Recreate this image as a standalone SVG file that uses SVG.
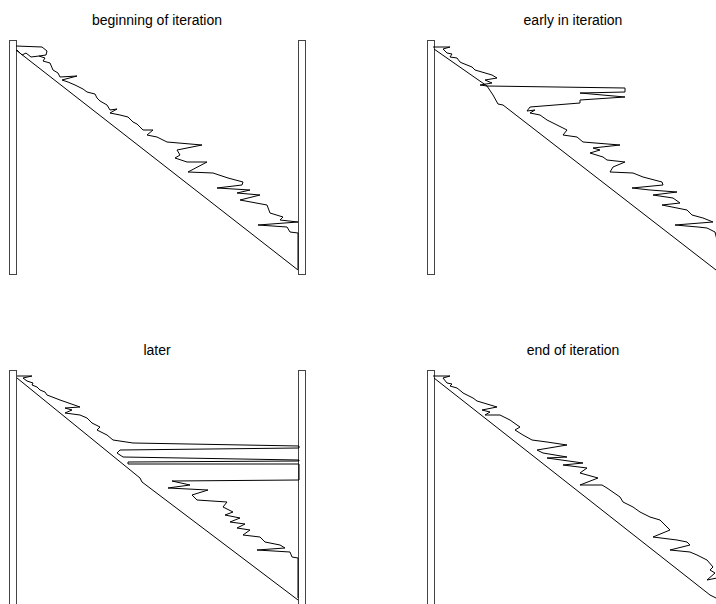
<svg xmlns="http://www.w3.org/2000/svg" width="716" height="604" viewBox="0 0 716 604">
<style>
.t{font-family:"Liberation Sans",Arial,sans-serif;font-size:14px;fill:#000;text-anchor:middle}
.bar{fill:#fff;stroke:#444;stroke-width:1}
.ln{fill:none;stroke:#000;stroke-width:1;stroke-linejoin:miter}
</style>
<rect width="716" height="604" fill="#fff"/>
<g id="panel1">
<text class="t" x="157" y="25">beginning of iteration</text>
<rect class="bar" x="9.5" y="40.5" width="7" height="234"/>
<rect class="bar" x="298.5" y="40.5" width="7" height="234"/>
<g id="connectors1">
<path class="ln" d="M16,50 L298,270"/>
<path class="ln" d="M16,46 L42,47 L47,51 L46,55 L39,56 L45,58 L43,61 L50,63 L53,70 L58,73 L60,77 L77,76 L62,80 L68,82 L75,85 L83,89 L87,92 L95,94 L97,98 L100,101 L107,105 L110,110 L117,109 L110,113 L120,115 L128,117 L133,122 L137,124 L143,130 L153,130 L147,135 L157,137 L167,142 L202,145 L177,150 L180,155 L175,158 L187,162 L207,162 L188,172 L213,173 L228,178 L243,182 L242,185 L217,188 L250,190 L237,193 L260,195 L240,200 L267,205 L270,213 L283,217 L280,220 L298,222 L258,225 L287,227 L290,232 L298,233 L298,269"/>
<path class="ln" d="M17,50 L22,55 L26,53 L31,57 L39,56"/>
</g>
</g>
<g id="panel2">
<text class="t" x="573" y="25">early in iteration</text>
<rect class="bar" x="427.5" y="40.5" width="7" height="234"/>
<g id="connectors2">
<path class="ln" d="M434,49 L487,86 L493,95 L498,104 L503,105 L716,270"/>
<path class="ln" d="M433,47 L450,47 L443,49 L447,53 L452,54 L450,57 L457,58 L460,62 L462,63 L472,67 L475,70 L492,75 L497,78 L485,80 L492,83 L480,85 L487,86 L625,88 L625,92 L580,93 L625,97 L580,100 L580,103 L530,107 L527,111 L535,110 L530,113 L540,115 L547,120 L553,123 L563,128 L567,130 L563,135 L577,137 L583,142 L620,145 L593,148 L600,150 L590,153 L603,157 L607,160 L625,162 L613,167 L610,172 L633,173 L643,177 L662,182 L663,185 L632,188 L650,190 L677,192 L653,195 L673,198 L680,203 L662,205 L687,210 L692,215 L703,218 L713,222 L675,225 L698,227 L707,228 L715,232 L717,240"/>
</g>
</g>
<g id="panel3">
<text class="t" x="157" y="355">later</text>
<rect class="bar" x="9.5" y="370.5" width="7" height="240"/>
<rect class="bar" x="298.5" y="370.5" width="7" height="240"/>
<g id="connectors3">
<path class="ln" d="M17,378 L140,478 L142,482 L298,600"/>
<path class="ln" d="M17,376 L32,376 L23,378 L27,381 L33,383 L32,385 L37,387 L40,390 L45,392 L47,395 L60,400 L80,407 L65,408 L72,410 L65,413 L80,415 L87,418 L92,423 L100,427 L97,430 L107,435 L113,440 L133,443 L299,446 L299,448 L120,450 L117,453 L123,457 L299,460 L299,461 L128,462 L128,464 L299,464 L299,480 L172,481 L190,485 L168,488 L208,490 L192,495 L197,500 L227,502 L223,507 L233,512 L225,515 L240,518 L230,522 L245,524 L237,528 L250,530 L243,535 L260,537 L265,542 L280,545 L285,548 L257,550 L290,552 L292,557 L298,558 L298,598"/>
</g>
</g>
<g id="panel4">
<text class="t" x="573" y="355">end of iteration</text>
<rect class="bar" x="427.5" y="370.5" width="7" height="240"/>
<g id="connectors4">
<path class="ln" d="M434,378 L710,595 L716,598"/>
<path class="ln" d="M433,376 L450,376 L443,378 L447,383 L452,384 L450,386 L457,388 L462,392 L463,393 L473,398 L477,401 L497,407 L482,410 L490,412 L485,415 L500,415 L510,420 L517,425 L520,427 L515,430 L523,435 L532,440 L547,442 L567,445 L537,450 L543,453 L567,457 L547,458 L583,463 L563,465 L587,468 L580,473 L598,478 L580,485 L602,485 L607,488 L620,497 L623,502 L633,507 L640,512 L650,517 L660,520 L670,530 L653,537 L677,540 L687,542 L690,545 L670,550 L690,552 L697,555 L707,560 L713,567 L710,570 L715,573 L707,580 L717,578"/>
</g>
</g>
</svg>
